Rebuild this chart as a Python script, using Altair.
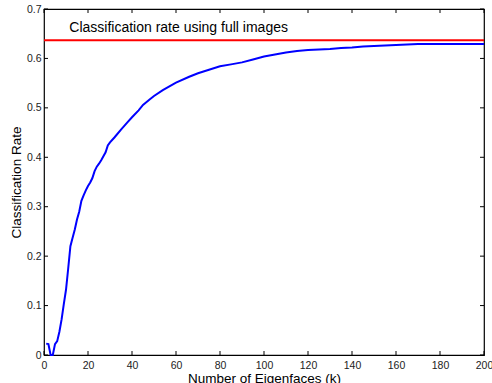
import altair as alt
import pandas as pd

# Blue curve: classification rate vs number of eigenfaces
k_values = [1, 2, 3, 4, 5, 6, 7, 8, 9, 10, 11, 12, 13, 14, 15, 16, 17, 18, 19, 20,
            21, 22, 23, 24, 25, 26, 27, 28, 29, 30, 32, 35, 38, 40, 43, 45, 48, 50,
            54, 60, 66, 70, 75, 80, 85, 90, 95, 100, 105, 110, 115, 120, 125, 130,
            135, 140, 145, 150, 155, 160, 165, 170, 180, 190, 200]
rates = [0.023, 0.022, 0.0, 0.0, 0.022, 0.028, 0.047, 0.072, 0.103, 0.132, 0.175,
         0.220, 0.237, 0.254, 0.274, 0.290, 0.312, 0.323, 0.333, 0.342, 0.349, 0.358,
         0.372, 0.381, 0.387, 0.394, 0.402, 0.410, 0.424, 0.430, 0.440, 0.456, 0.471,
         0.481, 0.495, 0.506, 0.517, 0.524, 0.536, 0.551, 0.563, 0.570, 0.577, 0.584,
         0.588, 0.592, 0.598, 0.604, 0.608, 0.612, 0.615, 0.617, 0.618, 0.619, 0.621,
         0.622, 0.624, 0.625, 0.626, 0.627, 0.628, 0.629, 0.629, 0.629, 0.629]

# Red reference line (full images)
full_x = [0, 200]
full_rate = [0.637, 0.637]

label_text = ["Classification rate using full images"]
label_x = [11.5]
label_y = [0.662]

x_ticks = [0, 20, 40, 60, 80, 100, 120, 140, 160, 180, 200]
y_ticks = [0, 0.1, 0.2, 0.3, 0.4, 0.5, 0.6, 0.7]

W, H = 440, 346
TL = 4

curve = pd.DataFrame({"k": k_values, "rate": rates})
full = pd.DataFrame({"k": full_x, "rate": full_rate})
lab = pd.DataFrame({"k": label_x, "rate": label_y, "t": label_text})
xt = pd.DataFrame({"t": x_ticks})
yt = pd.DataFrame({"t": y_ticks})

xs = alt.Scale(domain=[0, 200], nice=False, zero=False)
ys = alt.Scale(domain=[0, 0.7], nice=False, zero=False)

FONT = "Liberation Sans"

blue = alt.Chart(curve).mark_line(color="#0000ff", strokeWidth=2).encode(
    x=alt.X("k:Q", scale=xs, axis=alt.Axis(
        values=x_ticks, title="Number of Eigenfaces (k)", tickSize=0, domain=False,
        grid=False, labelFlush=False, labelOverlap=False, labelPadding=5,
        titlePadding=1)),
    y=alt.Y("rate:Q", scale=ys, axis=alt.Axis(
        values=y_ticks, title="Classification Rate", tickSize=0, domain=False,
        grid=False, format=".1~f", labelFlush=False, labelOverlap=False,
        labelPadding=3, titlePadding=3)),
)

red = alt.Chart(full).mark_line(color="#ff0000", strokeWidth=2).encode(
    x=alt.X("k:Q", scale=xs), y=alt.Y("rate:Q", scale=ys))

txt = alt.Chart(lab).mark_text(align="left", baseline="middle", fontSize=14,
                               font=FONT, color="black").encode(
    x=alt.X("k:Q", scale=xs), y=alt.Y("rate:Q", scale=ys), text="t:N")

tb = alt.Chart(xt).mark_rule(color="black", strokeWidth=1).encode(
    x=alt.X("t:Q", scale=xs), y=alt.value(H), y2=alt.value(H - TL))
tt = alt.Chart(xt).mark_rule(color="black", strokeWidth=1).encode(
    x=alt.X("t:Q", scale=xs), y=alt.value(0), y2=alt.value(TL))
tlft = alt.Chart(yt).mark_rule(color="black", strokeWidth=1).encode(
    y=alt.Y("t:Q", scale=ys), x=alt.value(0), x2=alt.value(TL))
trgt = alt.Chart(yt).mark_rule(color="black", strokeWidth=1).encode(
    y=alt.Y("t:Q", scale=ys), x=alt.value(W), x2=alt.value(W - TL))

chart = alt.layer(tb, tt, tlft, trgt, red, blue, txt).properties(
    width=W, height=H,
    autosize=alt.AutoSizeParams(type="none"),
    padding={"left": 44, "top": 9, "right": 8, "bottom": 28},
).configure_view(stroke="black", strokeWidth=1.2).configure_axis(
    labelFont=FONT, labelFontSize=10.5, labelColor="#222222",
    titleFont=FONT, titleFontSize=13.5, titleFontWeight="normal", titleColor="black",
)

chart.save("out.html", embed_options={"renderer": "svg", "actions": False})
